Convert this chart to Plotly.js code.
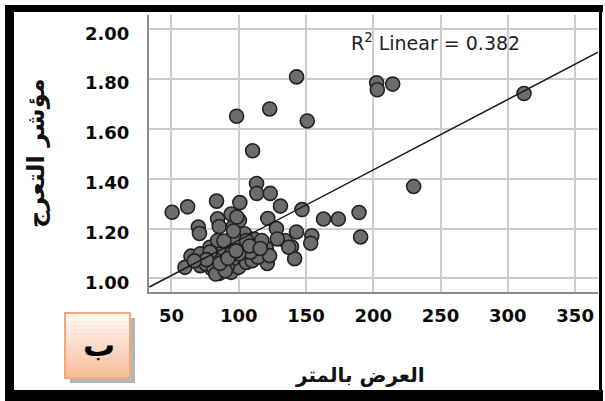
<!DOCTYPE html>
<html>
<head>
<meta charset="utf-8">
<script src="https://cdn.plot.ly/plotly-3.0.1.min.js"></script>
<style>
  html, body { margin: 0; padding: 0; background: #fff; }
  #chart { width: 605px; height: 401px; }
</style>
</head>
<body>
<div id="chart"></div>
<script>
// ---- data ----
const widthM = [
  143, 123, 98.4, 150.9, 110.3,
  202.5, 203, 214.4, 312,
  113.2, 113.4, 123.4, 131, 100.8, 83.5, 62, 50.5, 147, 163, 174, 189.4, 190.6, 230,
  121.6, 128, 142.9, 154.3, 153.5, 139.2, 141.5, 120.5, 121.2,
  70, 70.8, 84.3, 85.5, 95.7, 100.5, 94.3, 98.6,
  104.3, 111.4, 117.1, 64.5, 60, 71.4, 80, 85.7, 94.3, 100, 105.7, 95.7, 82.9,
  88.6, 78.6, 94.3, 102.9, 110, 114.3, 122.9, 108.6, 100, 75.7, 91.4, 81.4, 71.4,
  84.3, 97.1, 105.7, 94.3, 88.6, 82.9, 78.6, 134.3, 137.1, 128.6,
  90, 86, 92, 98, 76, 108, 116, 67, 89, 96
];
const sinuosity = [
  1.809, 1.680, 1.651, 1.632, 1.512,
  1.785, 1.757, 1.780, 1.742,
  1.381, 1.341, 1.341, 1.290, 1.304, 1.310, 1.287, 1.265, 1.276, 1.238, 1.238, 1.264, 1.166, 1.369,
  1.240, 1.200, 1.186, 1.171, 1.141, 1.127, 1.079, 1.121, 1.060,
  1.206, 1.180, 1.239, 1.208, 1.206, 1.232, 1.258, 1.246,
  1.179, 1.158, 1.152, 1.089, 1.044, 1.051, 1.038, 1.020, 1.024, 1.044, 1.064, 1.078, 1.085,
  1.118, 1.125, 1.138, 1.125, 1.071, 1.085, 1.091, 1.105, 1.098, 1.058, 1.044, 1.044, 1.098,
  1.152, 1.158, 1.152, 1.098, 1.064, 1.017, 1.105, 1.152, 1.125, 1.158,
  1.030, 1.060, 1.080, 1.110, 1.075, 1.130, 1.120, 1.070, 1.150, 1.190
];
// linear fit line (start and end of the drawn line)
const fitX = [33.6, 367];
const fitY = [0.965, 1.908];

const xTicks = [50, 100, 150, 200, 250, 300, 350];
const yTicks = [1.00, 1.20, 1.40, 1.60, 1.80, 2.00];
const xTitle = 'العرض بالمتر';
const yTitle = 'مؤشر التعرج';
const r2Text = 'R<sup>2</sup> Linear = 0.382';
const panelLabel = 'ب';

// ---- layout helpers (pixel -> paper) ----
const W = 605, H = 401;
const M = { l: 149, r: 7, t: 15, b: 109 };
const PW = W - M.l - M.r, PH = H - M.t - M.b;
const PX = p => (p - M.l) / PW;
const PY = p => 1 - (p - M.t) / PH;
function rect(x0, y0, x1, y1, fill, line) {
  return { type: 'rect', xref: 'paper', yref: 'paper', layer: 'above',
    x0: PX(x0), x1: PX(x1), y0: PY(y1), y1: PY(y0),
    fillcolor: fill, line: line || { width: 0 } };
}

const shapes = [];
// outer black frame
shapes.push(rect(5, 5, 603, 12, '#000'));
shapes.push(rect(5, 5, 14, 400, '#000'));
shapes.push(rect(5, 390, 603, 401, '#000'));
shapes.push(rect(599, 5, 602, 400, '#000'));
// panel label box: shadow, gradient stripes, border
shapes.push(rect(70, 318, 135, 383, 'rgba(120,120,120,0.55)'));
const gradTop = [255, 248, 242], gradBot = [247, 190, 156];
const N = 16, bx0 = 65, by0 = 313, bx1 = 130, by1 = 378;
for (let i = 0; i < N; i++) {
  const t = i / (N - 1);
  const c = gradTop.map((v, k) => Math.round(v + (gradBot[k] - v) * t));
  const ya = by0 + (by1 - by0) * i / N, yb = by0 + (by1 - by0) * (i + 1) / N + 0.5;
  shapes.push(rect(bx0, ya, bx1, yb, `rgb(${c[0]},${c[1]},${c[2]})`));
}
shapes.push(rect(bx0, by0, bx1, by1, 'rgba(0,0,0,0)', { color: '#f2a878', width: 2 }));

const annotations = [
  { xref: 'paper', yref: 'paper', x: PX(435), y: PY(42), xanchor: 'center', yanchor: 'middle',
    text: r2Text, showarrow: false, font: { family: 'DejaVu Sans, Liberation Sans, sans-serif', size: 19, color: '#222' } },
  { xref: 'paper', yref: 'paper', x: PX(360), y: PY(375), xanchor: 'center', yanchor: 'middle',
    text: '<b>' + xTitle + '</b>', showarrow: false, font: { family: 'DejaVu Sans, sans-serif', size: 20, color: '#111' } },
  { xref: 'paper', yref: 'paper', x: PX(36), y: PY(153), xanchor: 'center', yanchor: 'middle',
    text: '<b>' + yTitle + '</b>', textangle: -90, showarrow: false,
    font: { family: 'DejaVu Sans, sans-serif', size: 24, color: '#111' } },
  { xref: 'paper', yref: 'paper', x: PX(99), y: PY(345), xanchor: 'center', yanchor: 'middle',
    text: '<b>' + panelLabel + '</b>', showarrow: false,
    font: { family: 'DejaVu Sans, sans-serif', size: 32, color: '#000' } }
];

const traces = [
  { type: 'scatter', mode: 'markers', x: widthM, y: sinuosity, hoverinfo: 'skip',
    marker: { size: 14, color: '#6c6c6c', line: { color: '#222', width: 1.6 } } },
  { type: 'scatter', mode: 'lines', x: fitX, y: fitY, hoverinfo: 'skip',
    line: { color: '#1a1a1a', width: 1.5 } }
];

const tickFont = { family: 'DejaVu Sans, sans-serif', size: 18, color: '#0a0a0a', weight: 'bold' };

const layout = {
  width: W, height: H,
  margin: M,
  paper_bgcolor: '#fff', plot_bgcolor: '#fff',
  showlegend: false,
  xaxis: {
    range: [33.3, 367], tickvals: xTicks, ticktext: xTicks.map(String),
    showgrid: true, gridcolor: '#cdcdcd', gridwidth: 2,
    zeroline: false, showline: true, linecolor: '#8c8c8c', linewidth: 2,
    ticks: '', ticklabelstandoff: 6, tickfont: tickFont, fixedrange: true
  },
  yaxis: {
    range: [0.945, 2.0575], tickvals: yTicks, ticktext: yTicks.map(v => v.toFixed(2)),
    showgrid: true, gridcolor: '#cdcdcd', gridwidth: 2,
    zeroline: false, showline: true, linecolor: '#8c8c8c', linewidth: 2,
    ticks: '', ticklabelstandoff: 14, ticklabelshift: 4, tickfont: tickFont, fixedrange: true
  },
  shapes: shapes,
  annotations: annotations
};

Plotly.newPlot('chart', traces, layout, { displayModeBar: false, staticPlot: true });
</script>
</body>
</html>
